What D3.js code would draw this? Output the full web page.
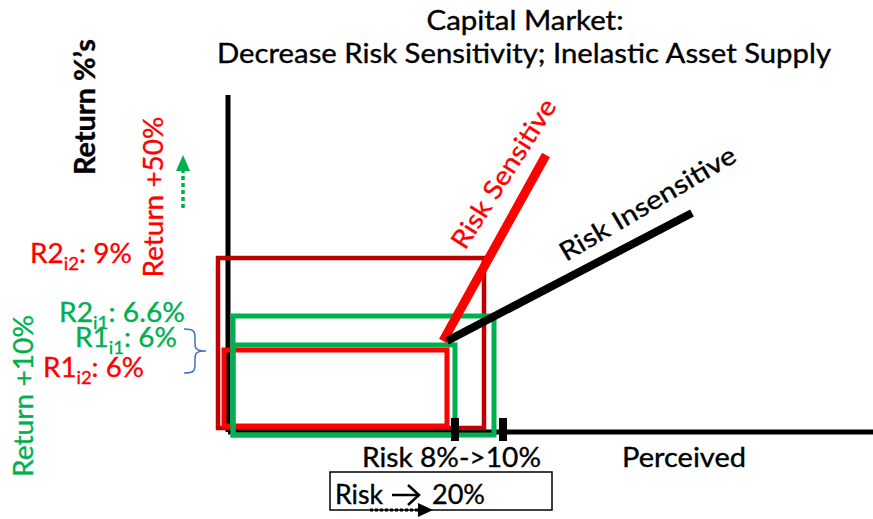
<!DOCTYPE html>
<html>
<head>
<meta charset="utf-8">
<script src="https://cdn.jsdelivr.net/npm/d3@7"></script>
<style>
  html, body { margin: 0; padding: 0; background: #fff; }
  svg { display: block; }
  text { font-family: Lato, "Open Sans", sans-serif; stroke-width: 0.35px; paint-order: stroke; }
</style>
</head>
<body>
<div id="chart"></div>
<script>
// ---- Data (diagram units: x = perceived risk, y = return) ----
const titleLines = ["Capital Market:", "Decrease Risk Sensitivity; Inelastic Asset Supply"];

// Rectangles: risk/return boxes
const boxNames   = ["R2 i2 (dark red)", "R1 i2 (red)", "R2 i1 (green)", "R1 i1 (green)"];
const boxX0      = [-1.55, -0.62, 0.78, 0.78];
const boxX1      = [39.69, 33.95, 41.24, 35.19];
const boxY0      = [1.19, 1.78, -0.89, -0.89];
const boxY1      = [51.63, 24.33, 34.42, 25.82];
const boxColors  = ["#C00000", "#FF0000", "#00B050", "#00B050"];

// Supply lines
const lineNames  = ["Risk Sensitive", "Risk Insensitive"];
const lineX      = [[33.33, 49.30], [33.95, 71.94]];
const lineY      = [[27.0, 82.2], [27.0, 64.99]];
const lineColors = ["#FF0000", "#000000"];

// Risk markers on the x axis (8% and 10%)
const markerLabels = ["8%", "10%"];
const markerX      = [35.19, 42.64];
const markerY      = [-2.67, 4.15];

// Return labels
const returnLabels = [
  { main: "R2", sub: "i2", rest: ": 9%",   color: "#FF0000" },
  { main: "R2", sub: "i1", rest: ": 6.6%", color: "#00B050" },
  { main: "R1", sub: "i1", rest: ": 6%",   color: "#00B050" },
  { main: "R1", sub: "i2", rest: ": 6%",   color: "#FF0000" }
];

const W = 873, H = 519;
const x = d3.scaleLinear().domain([0, 100]).range([228, 873]);
const y = d3.scaleLinear().domain([0, 100]).range([432, 95]);

const svg = d3.select("#chart").append("svg")
  .attr("width", W).attr("height", H);

function txt(sel, color) { return sel.attr("fill", color).attr("stroke", color); }

// Title
txt(svg.append("text").attr("x", 525).attr("y", 30).attr("text-anchor", "middle")
  .attr("font-size", 26)
  .attr("textLength", 197).attr("lengthAdjust", "spacingAndGlyphs")
  .text(titleLines[0]), "#000");
txt(svg.append("text").attr("x", 217).attr("y", 63)
  .attr("font-size", 26)
  .attr("textLength", 614).attr("lengthAdjust", "spacingAndGlyphs")
  .text(titleLines[1]), "#000");

// Axes (L-shaped)
svg.append("line").attr("x1", x(0)).attr("x2", x(0)).attr("y1", y(0)).attr("y2", y(100))
  .attr("stroke", "#000").attr("stroke-width", 5);
svg.append("line").attr("x1", x(0)).attr("x2", x(100)).attr("y1", y(0)).attr("y2", y(0))
  .attr("stroke", "#000").attr("stroke-width", 5);

// Boxes
const boxes = boxNames.map((n, i) => ({ n, x0: boxX0[i], x1: boxX1[i], y0: boxY0[i], y1: boxY1[i], c: boxColors[i] }));
svg.selectAll("rect.box").data(boxes).join("rect")
  .attr("class", "box")
  .attr("x", d => x(d.x0)).attr("y", d => y(d.y1))
  .attr("width", d => x(d.x1) - x(d.x0)).attr("height", d => y(d.y0) - y(d.y1))
  .attr("fill", "none").attr("stroke", d => d.c)
  .attr("stroke-width", (d, i) => i === 0 ? 4.5 : 5)
  .attr("stroke-linejoin", "miter");

// Markers
svg.selectAll("rect.marker").data(markerX).join("rect")
  .attr("class", "marker")
  .attr("x", d => x(d) - 4).attr("y", y(markerY[1]))
  .attr("width", 8).attr("height", y(markerY[0]) - y(markerY[1]))
  .attr("fill", "#000");

// Supply lines
lineNames.forEach((n, i) => {
  svg.append("line")
    .attr("x1", x(lineX[i][0])).attr("y1", y(lineY[i][0]))
    .attr("x2", x(lineX[i][1])).attr("y2", y(lineY[i][1]))
    .attr("stroke", lineColors[i]).attr("stroke-width", i === 0 ? 9 : 8);
});

// Line labels
txt(svg.append("text")
  .attr("transform", "translate(465,251) rotate(-57.5)")
  .attr("font-size", 26)
  .attr("textLength", 172).attr("lengthAdjust", "spacingAndGlyphs")
  .text(lineNames[0]), "#FF0000");
txt(svg.append("text")
  .attr("transform", "translate(566,262) rotate(-30.5)")
  .attr("font-size", 26)
  .attr("textLength", 200).attr("lengthAdjust", "spacingAndGlyphs")
  .text(lineNames[1]), "#000");

// Rotated axis texts
function vText(bx, cy, str, len, color, size, weight) {
  txt(svg.append("text")
    .attr("transform", `translate(${bx},${cy}) rotate(-90)`)
    .attr("text-anchor", "middle")
    .attr("font-size", size).attr("font-weight", weight || "normal")
    .attr("textLength", len).attr("lengthAdjust", "spacingAndGlyphs")
    .text(str), color);
}
vText(95, 107, "Return %’s", 136, "#000", 28, "bold");
vText(163, 197, "Return +50%", 161, "#FF0000", 27);
vText(33, 396, "Return +10%", 162, "#00B050", 27);

// Return labels with subscripts
const labelPos = [
  { x: 30, y: 263, w: 102 },
  { x: 59, y: 322, w: 126 },
  { x: 75, y: 347, w: 102 },
  { x: 43, y: 377, w: 101 }
];
returnLabels.forEach((d, i) => {
  const p = labelPos[i];
  const t = txt(svg.append("text").attr("x", p.x).attr("y", p.y)
    .attr("font-size", 27)
    .attr("textLength", p.w).attr("lengthAdjust", "spacingAndGlyphs"), d.color);
  t.append("tspan").text(d.main);
  t.append("tspan").attr("font-size", 18).attr("dy", 7).text(d.sub);
  t.append("tspan").attr("dy", -7).text(d.rest);
});

// Blue brace
svg.append("path")
  .attr("d", "M184,329 C194,329 195,331 195,338 L195,344 C195,349 197,351 206,351 C197,351 195,353 195,358 L195,364 C195,371 194,373 184,373")
  .attr("fill", "none").attr("stroke", "#4472C4").attr("stroke-width", 1.5);

// Green dotted up arrow
svg.append("line").attr("x1", 183).attr("x2", 183).attr("y1", 208).attr("y2", 171)
  .attr("stroke", "#00B050").attr("stroke-width", 3.5).attr("stroke-dasharray", "4,3");
svg.append("path").attr("d", "M176,171 L190,171 L183,155 Z").attr("fill", "#00B050");

// Risk labels
txt(svg.append("text").attr("x", 362).attr("y", 467).attr("font-size", 26)
  .attr("textLength", 179).attr("lengthAdjust", "spacingAndGlyphs")
  .text("Risk " + markerLabels[0] + "->" + markerLabels[1]), "#000");
txt(svg.append("text").attr("x", 622).attr("y", 467).attr("font-size", 26)
  .attr("textLength", 124).attr("lengthAdjust", "spacingAndGlyphs")
  .text("Perceived"), "#000");

// Boxed "Risk -> 20%"
svg.append("rect").attr("x", 330).attr("y", 472).attr("width", 222).attr("height", 38)
  .attr("fill", "none").attr("stroke", "#000").attr("stroke-width", 1.5);
txt(svg.append("text").attr("x", 335).attr("y", 504).attr("font-size", 26)
  .attr("textLength", 48).attr("lengthAdjust", "spacingAndGlyphs").text("Risk"), "#000");
// arrow glyph
svg.append("line").attr("x1", 392).attr("x2", 418).attr("y1", 495).attr("y2", 495)
  .attr("stroke", "#000").attr("stroke-width", 2.5);
svg.append("path").attr("d", "M408,485 L419,495 L408,505").attr("fill", "none")
  .attr("stroke", "#000").attr("stroke-width", 2.5);
txt(svg.append("text").attr("x", 432).attr("y", 504).attr("font-size", 26)
  .attr("textLength", 53).attr("lengthAdjust", "spacingAndGlyphs").text("20%"), "#000");
// dotted arrow under it
svg.append("line").attr("x1", 370).attr("x2", 420).attr("y1", 510).attr("y2", 510)
  .attr("stroke", "#000").attr("stroke-width", 3).attr("stroke-dasharray", "3,2");
svg.append("path").attr("d", "M418,503 L433,510 L418,517 Z").attr("fill", "#000");
</script>
</body>
</html>
